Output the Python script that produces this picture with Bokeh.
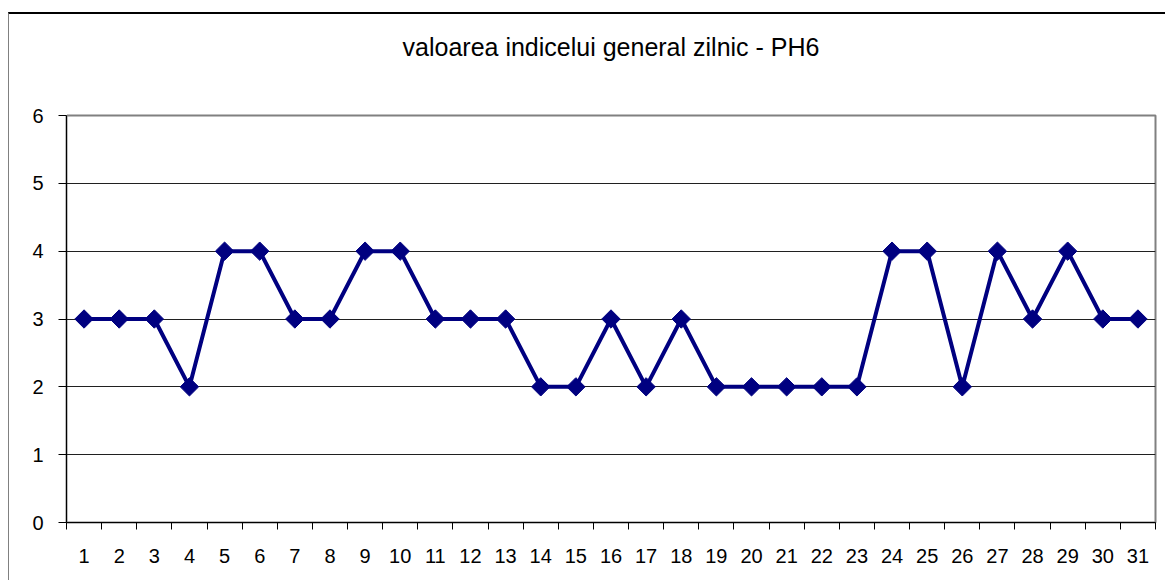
from bokeh.plotting import figure
from bokeh.models import FixedTicker, Range1d, LinearAxis
from bokeh.embed import file_html
from bokeh.resources import INLINE

# ---- data ----
days = [1, 2, 3, 4, 5, 6, 7, 8, 9, 10, 11, 12, 13, 14, 15, 16,
        17, 18, 19, 20, 21, 22, 23, 24, 25, 26, 27, 28, 29, 30, 31]
index_values = [3, 3, 3, 2, 4, 4, 3, 3, 4, 4, 3, 3, 3, 2, 2, 3,
                2, 3, 2, 2, 2, 2, 2, 4, 4, 2, 4, 3, 4, 3, 3]
y_ticks = [0, 1, 2, 3, 4, 5, 6]
title_text = "valoarea indicelui general zilnic - PH6"

FONT = "Liberation Sans"

p = figure(width=1157, height=568, output_backend="svg", toolbar_location=None,
           x_range=Range1d(0.5, 31.5), y_range=Range1d(0, 6),
           min_border_left=57, min_border_right=11,
           min_border_top=101, min_border_bottom=60,
           title=title_text)
p.styles = {"margin-top": "12px", "margin-left": "8px",
            "border-top": "2px solid black", "border-left": "1px solid #808080"}
p.background_fill_color = "white"
p.border_fill_color = "white"
p.outline_line_color = "#808080"
p.outline_line_width = 2

p.title.align = "center"
p.title.text_font = FONT
p.title.text_font_size = "25px"
p.title.text_font_style = "normal"
p.title.text_color = "black"
p.title.standoff = 10

# invisible spacer axis between the frame and the title
spacer = LinearAxis(ticker=FixedTicker(ticks=[0.5]), axis_line_color=None,
                    major_tick_line_color="white", minor_tick_line_color=None,
                    major_tick_in=0, major_tick_out=46,
                    minor_tick_in=0, minor_tick_out=0,
                    major_label_standoff=0, major_label_text_font_size="1px",
                    major_label_text_color="white")
p.add_layout(spacer, "above")

# grid
p.xgrid.visible = False
p.ygrid.ticker = FixedTicker(ticks=y_ticks)
p.ygrid.grid_line_color = "#202020"
p.ygrid.grid_line_width = 1

# x axis: labels at centres, ticks at category boundaries
xa = p.below[0]
xa.ticker = FixedTicker(ticks=days, minor_ticks=[d - 0.5 for d in days] + [days[-1] + 0.5])
xa.major_tick_in = 0
xa.major_tick_out = 0
xa.minor_tick_in = 0
xa.minor_tick_out = 7
xa.minor_tick_line_color = "black"
xa.axis_line_color = "black"
xa.major_label_standoff = 19
xa.major_label_text_font = FONT
xa.major_label_text_font_size = "20px"
xa.major_label_text_color = "black"

ya = p.yaxis[0]
ya.ticker = FixedTicker(ticks=y_ticks)
ya.major_tick_in = 0
ya.major_tick_out = 8
ya.major_tick_line_color = "black"
ya.minor_tick_out = 0
ya.minor_tick_in = 0
ya.axis_line_color = "black"
ya.major_label_standoff = 15
ya.major_label_text_font = FONT
ya.major_label_text_font_size = "20px"
ya.major_label_text_color = "black"

# series
p.line(days, index_values, line_color="#000080", line_width=4)
p.scatter(days, index_values, marker="square", angle=0.785398, size=13,
          fill_color="#000080", line_color="#000080")

open("out.html", "w").write(file_html(p, INLINE))
